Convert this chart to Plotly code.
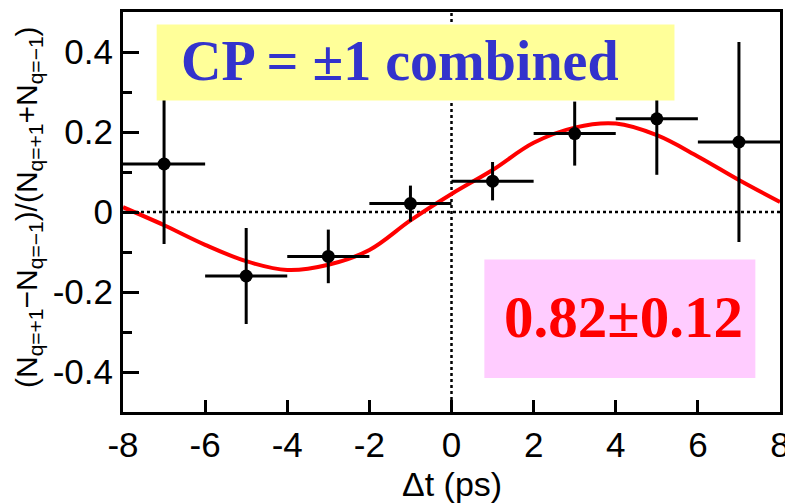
import plotly.graph_objects as go

# Data points (Delta t bins)
dt_bins = [-7, -5, -3, -1, 1, 3, 5, 7]
asym = [0.12, -0.16, -0.111, 0.021, 0.077, 0.196, 0.233, 0.175]
asym_err = [0.20, 0.12, 0.067, 0.045, 0.048, 0.08, 0.14, 0.25]
dt_halfwidth = [1, 1, 1, 1, 1, 1, 1, 1]

# Fit curve
fit_t = [-8, -7, -6, -5, -4, -3, -2, -1, 0, 1, 2, 3, 4, 5, 6, 7, 8]
fit_y = [0.012, -0.033, -0.082, -0.123, -0.145, -0.132, -0.095, -0.021, 0.045,
         0.105, 0.173, 0.211, 0.221, 0.192, 0.139, 0.080, 0.025]

x_ticks = [-8, -6, -4, -2, 0, 2, 4, 6, 8]
x_tick_labels = ["-8", "-6", "-4", "-2", "0", "2", "4", "6", "8"]
y_ticks = [-0.4, -0.2, 0, 0.2, 0.4]
y_tick_labels = ["-0.4", "-0.2", "0", "0.2", "0.4"]
y_minor = [-0.3, -0.1, 0.1, 0.3]

fig = go.Figure()

fig.add_trace(go.Scatter(
    x=fit_t, y=fit_y, mode="lines", line=dict(color="#ff0000", width=4, shape="spline"),
    hoverinfo="skip", showlegend=False))

fig.add_trace(go.Scatter(
    x=dt_bins, y=asym, mode="markers",
    marker=dict(color="black", size=13),
    error_y=dict(type="data", array=asym_err, color="black", thickness=3, width=0),
    error_x=dict(type="data", array=dt_halfwidth, color="black", thickness=3, width=0),
    showlegend=False))

# dotted zero lines
fig.add_shape(type="line", x0=-8, x1=8, y0=0, y1=0, xref="x", yref="y",
              line=dict(color="black", width=2.5, dash="dot"), layer="below")
fig.add_shape(type="line", x0=0, x1=0, y0=-0.5, y1=0.5, xref="x", yref="y",
              line=dict(color="black", width=2.5, dash="dot"), layer="below")

# yellow label box
fig.add_shape(type="rect", x0=-7.18, x1=5.43, y0=0.279, y1=0.469, xref="x", yref="y",
              fillcolor="#ffff99", line=dict(width=0), layer="above")
fig.add_annotation(x=-1.25, y=0.378, xref="x", yref="y", text="<b>CP = ±1 combined</b>",
                   showarrow=False, font=dict(family="Liberation Serif", size=56, color="#3333cc"))

# pink result box
fig.add_shape(type="rect", x0=0.8, x1=7.4, y0=-0.415, y1=-0.119, xref="x", yref="y",
              fillcolor="#ffccff", line=dict(width=0), layer="above")
fig.add_annotation(x=4.2, y=-0.263, xref="x", yref="y", text="<b>0.82±0.12</b>",
                   showarrow=False, font=dict(family="Liberation Serif", size=59, color="#ff0000"))

# axis titles
fig.add_annotation(x=0.5, y=-0.18, xref="paper", yref="paper", text="Δt (ps)",
                   showarrow=False, xanchor="center", yanchor="middle",
                   font=dict(family="Liberation Sans", size=34, color="black"))
fig.add_annotation(x=-0.1446, y=0.5125, xref="paper", yref="paper",
                   text="(N<sub>q=+1</sub>−N<sub>q=−1</sub>)/(N<sub>q=+1</sub>+N<sub>q=−1</sub>)",
                   textangle=-90, showarrow=False, xanchor="center", yanchor="middle",
                   font=dict(family="Liberation Sans", size=30, color="black"))

fig.update_layout(
    width=785, height=503,
    margin=dict(l=123, r=5, t=12, b=91, autoexpand=False),
    paper_bgcolor="white", plot_bgcolor="white",
    xaxis=dict(range=[-8, 8], tickmode="array", tickvals=x_ticks, ticktext=x_tick_labels,
               ticks="inside", ticklen=12, tickwidth=3, tickcolor="black",
               ticklabeloverflow="allow", automargin=False,
               showline=True, linecolor="black", linewidth=3, mirror=True,
               showgrid=False, zeroline=False,
               tickfont=dict(family="Liberation Sans", size=35, color="black")),
    yaxis=dict(range=[-0.5, 0.5], tickmode="array", tickvals=y_ticks, ticktext=y_tick_labels,
               ticks="inside", ticklen=16, tickwidth=3, tickcolor="black", automargin=False,
               minor=dict(tickvals=y_minor, ticks="inside", ticklen=9, tickwidth=3, tickcolor="black"),
               showline=True, linecolor="black", linewidth=3, mirror=True,
               showgrid=False, zeroline=False,
               tickfont=dict(family="Liberation Sans", size=35, color="black")),
)

fig.write_html("out.html")
